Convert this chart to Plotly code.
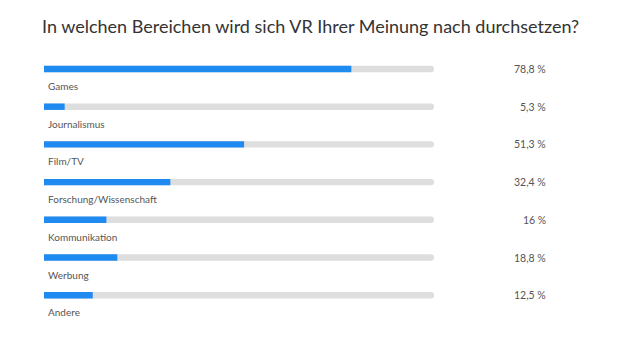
import plotly.graph_objects as go

categories = ["Games", "Journalismus", "Film/TV", "Forschung/Wissenschaft",
              "Kommunikation", "Werbung", "Andere"]
values = [78.8, 5.3, 51.3, 32.4, 16, 18.8, 12.5]
value_labels = ["78,8 %", "5,3 %", "51,3 %", "32,4 %", "16 %", "18,8 %", "12,5 %"]
title_text = "In welchen Bereichen wird sich VR Ihrer Meinung nach durchsetzen?"

pos = list(range(len(categories)))

fig = go.Figure()
fig.add_trace(go.Bar(
    x=[100] * len(categories), y=pos, orientation="h", width=0.17,
    marker=dict(color="#dedede", cornerradius="50%", line=dict(width=0)),
    hoverinfo="skip", showlegend=False,
))
fig.add_trace(go.Bar(
    x=values, y=pos, orientation="h", width=0.17,
    marker=dict(color="#1f8af0", cornerradius="50%", line=dict(width=0)),
    showlegend=False,
))

for i, (c, v) in enumerate(zip(categories, value_labels)):
    fig.add_annotation(x=0.006, xref="paper", y=i, yref="y", text=c,
                       showarrow=False, xanchor="left", yanchor="middle",
                       yshift=-17, font=dict(size=10, color="#555555"))
    fig.add_annotation(x=(548 - 44) / 390, xref="paper", y=i, yref="y", text=v,
                       showarrow=False, xanchor="right", yanchor="middle",
                       font=dict(size=10.5, color="#555555"))

fig.update_layout(
    width=618, height=348,
    margin=dict(l=44, r=184, t=50, b=18),
    paper_bgcolor="white", plot_bgcolor="white",
    barmode="overlay",
    font=dict(family="Lato, Open Sans, sans-serif"),
    title=dict(text=title_text, x=42 / 618, xanchor="left", y=1 - 27 / 348,
               yanchor="middle", font=dict(size=18, color="#333333")),
    xaxis=dict(range=[0, 100], visible=False, fixedrange=True),
    yaxis=dict(range=[6.923, -0.504], visible=False, fixedrange=True),
)

fig.write_html("out.html")
